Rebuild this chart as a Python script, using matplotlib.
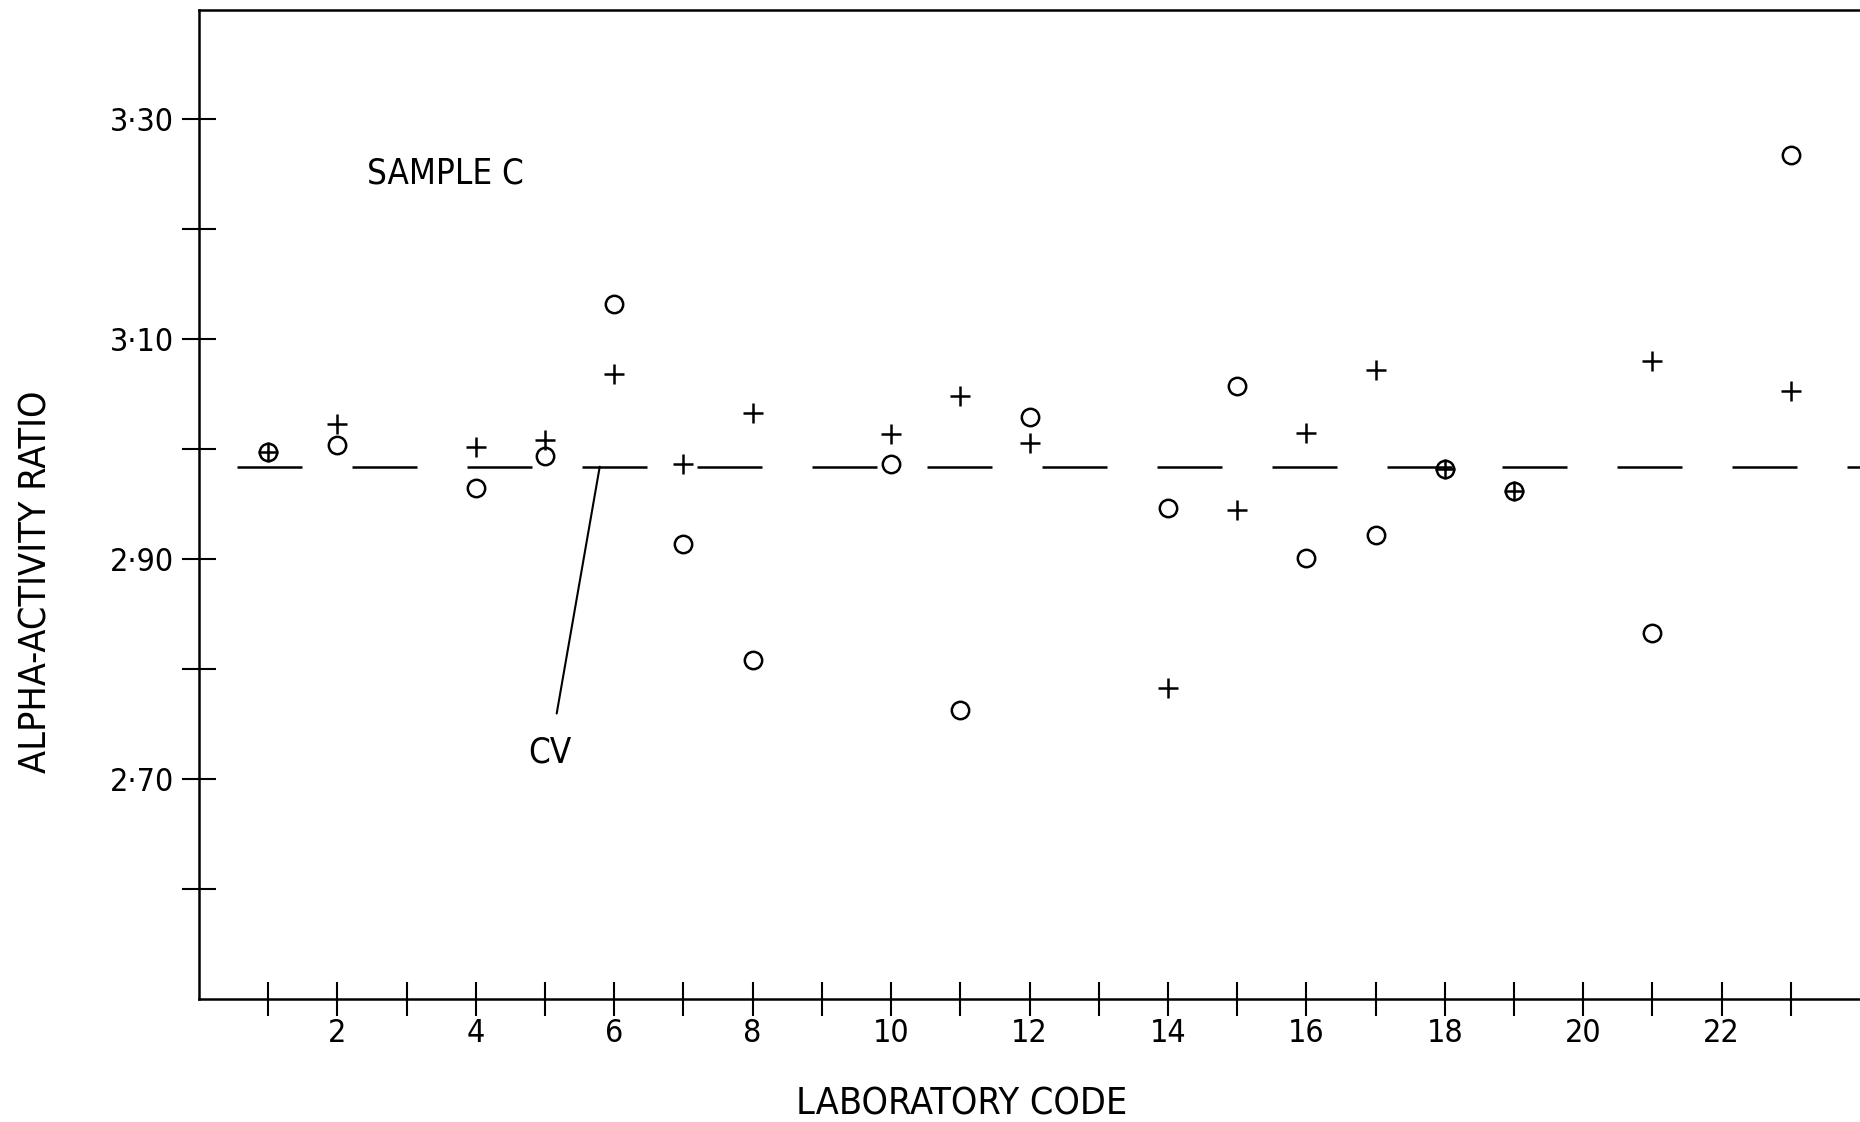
import matplotlib
matplotlib.use("Agg")
import matplotlib.pyplot as plt

# laboratory results, sample C: two determinations per lab (circle / plus)
labs = [1, 2, 4, 5, 6, 7, 8, 10, 11, 12, 14, 15, 16, 17, 18, 19, 21, 23]
circle_vals = [2.997, 3.004, 2.965, 2.994, 3.132, 2.914, 2.808, 2.986, 2.763,
               3.029, 2.946, 3.057, 2.901, 2.922, 2.982, 2.962, 2.833, 3.268]
plus_vals = [2.997, 3.023, 3.002, 3.008, 3.068, 2.986, 3.033, 3.014, 3.048,
             3.006, 2.783, 2.945, 3.015, 3.072, 2.982, 2.962, 3.080, 3.053]
cv_value = 2.984

y_ticks = [2.60, 2.70, 2.80, 2.90, 3.00, 3.10, 3.20, 3.30]
y_labelled = [2.70, 2.90, 3.10, 3.30]
x_ticks = list(range(1, 24))

plt.rcParams['font.family'] = ['DejaVu Sans']
plt.rcParams['font.stretch'] = 'condensed'

fig = plt.figure(figsize=(18.6, 11.22), dpi=100)
ax = fig.add_axes([0.107, 0.110, 0.893, 0.8815])

lw = 1.8
ax.plot(labs, circle_vals, linestyle='none', marker='o', markersize=12.5,
        markerfacecolor='none', markeredgecolor='black', markeredgewidth=1.8)
ax.plot(labs, plus_vals, linestyle='none', marker='+', markersize=14,
        color='black', markeredgewidth=1.8)

# consensus value as a long-dash line across the plot
ax.axhline(cv_value, color='black', linewidth=lw,
           linestyle=(30.8, (26, 20)))

ax.annotate('CV', xy=(5.79, cv_value), xytext=(5.07, 2.724),
            ha='center', va='center', fontsize=25,
            arrowprops=dict(arrowstyle='-', color='black', lw=1.5,
                            shrinkA=14, shrinkB=0))

ax.text(2.42, 3.251, 'SAMPLE C', fontsize=25, ha='left', va='center')

ax.set_xlim(0, 24)
ax.set_ylim(2.50, 3.40)

ax.set_yticks(y_ticks)
ax.set_yticklabels([f'{v:.2f}'.replace('.', '·') if v in y_labelled else ''
                    for v in y_ticks])
ax.set_xticks(x_ticks)
ax.set_xticklabels([str(v) if v % 2 == 0 else '' for v in x_ticks])

ax.tick_params(direction='inout', length=24, width=1.5, labelsize=23,
               pad=6)
ax.tick_params(axis='x', pad=2)

for side in ['left', 'bottom', 'top']:
    ax.spines[side].set_linewidth(1.8)
ax.spines['right'].set_visible(False)

ax.set_xlabel('LABORATORY CODE', fontsize=27)
ax.xaxis.set_label_coords(0.459, -0.089)
ax.set_ylabel('ALPHA-ACTIVITY RATIO', fontsize=27)
ax.yaxis.set_label_coords(-0.087, 0.421)

fig.savefig('out.png', dpi=100, facecolor='white')
